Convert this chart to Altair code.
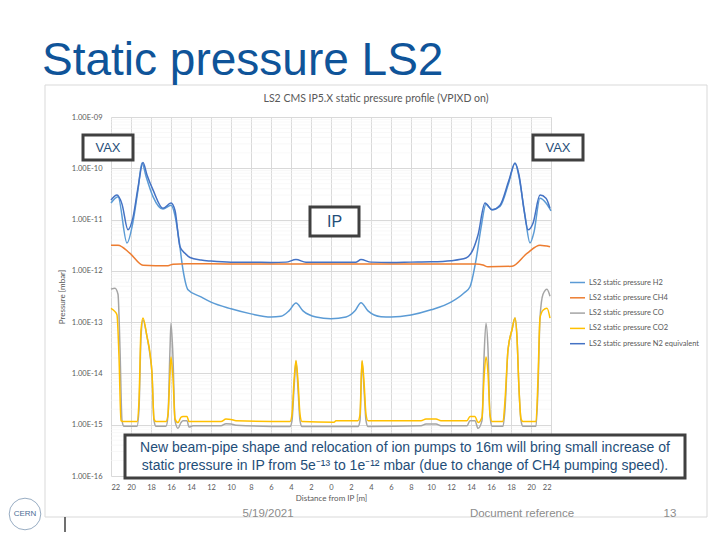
import altair as alt
import pandas as pd

# ---------------- data ----------------
SERIES = ["LS2 static pressure H2", "LS2 static pressure CH4", "LS2 static pressure CO",
          "LS2 static pressure CO2", "LS2 static pressure N2 equivalent"]
COLORS = ["#5B9BD5", "#ED7D31", "#A5A5A5", "#FFC000", "#4472C4"]
WIDTHS = [1.5, 1.5, 1.5, 2.0, 2.5]

h2_x = [-22, -21.3, -20.4, -19.8, -19.3, -18.9, -18.5, -17.8, -16.8, -16.0, -15.6, -15.2, -14.8, -14.3,
        -13, -12, -10, -8, -6, -5, -4.2, -3.5, -2.8, -1.5, 0, 1.5, 2.4, 3.0, 3.7, 5, 6, 8, 10, 12,
        13.3, 13.9, 14.5, 15.0, 15.5, 16.1, 16.9, 17.8, 18.4, 18.8, 19.4, 19.9, 20.3, 20.9, 21.5, 22]
h2_p = [2.1e-11, 2.8e-11, 3.5e-12, 9e-12, 3.8e-11, 1.27e-10, 7.0e-11, 2.8e-11, 1.6e-11, 1.9e-11, 1.2e-11,
        4e-12, 1.05e-12, 4.3e-13, 3.1e-13, 2.45e-13, 1.82e-13, 1.45e-13, 1.26e-13, 1.3e-13, 1.66e-13,
        2.35e-13, 1.66e-13, 1.26e-13, 1.17e-13, 1.26e-13, 1.66e-13, 2.4e-13, 1.66e-13, 1.28e-13,
        1.26e-13, 1.38e-13, 1.74e-13, 2.45e-13, 3.7e-13, 4.9e-13, 1.62e-12, 6.9e-12, 2.0e-11, 1.55e-11,
        1.8e-11, 5.4e-11, 1.27e-10, 6.8e-11, 1.2e-11, 3.5e-12, 5.7e-12, 2.6e-11, 2.1e-11, 1.48e-11]

ch4_x = [-22, -21.3, -20.1, -18.8, -16.3, -15.8, -14.4, -10, -5, 0, 5, 10, 14.5, 15.2, 15.7, 18.1,
         19.6, 20.9, 21.9]
ch4_p = [3.16e-12, 3.16e-12, 2.19e-12, 1.29e-12, 1.26e-12, 1.35e-12, 1.38e-12, 1.36e-12, 1.36e-12,
         1.36e-12, 1.36e-12, 1.36e-12, 1.36e-12, 1.3e-12, 1.2e-12, 1.23e-12, 2.19e-12, 3.16e-12, 2.95e-12]

co_x = [-22, -21.6, -21.3, -21.1, -20.9, -20.7, -19.4, -19.2, -19.0, -18.8, -18.4, -18.1, -17.9, -17.7,
        -17.5, -16.5, -16.3, -16.1, -16.0, -15.8, -15.6, -15.3, -15.0, -14.8, -14.4, -14.2, -13.8, -11,
        -10.5, -10.0, -9.5, -4.1, -3.9, -3.7, -3.5, -3.3, -3.1, -2.9, 0, 2.7, 2.9, 3.1, 3.3, 3.5, 3.7,
        9, 9.5, 10.5, 11, 13.6, 13.9, 14.4, 14.7, 15.1, 15.3, 15.5, 15.7, 15.9, 16.1, 17.2, 17.4, 17.7,
        18.1, 18.4, 18.6, 18.8, 19.0, 19.2, 20.5, 20.7, 20.9, 21.2, 21.6, 21.9]
co_p = [4.4e-13, 4.6e-13, 3.5e-13, 3e-14, 1.2e-15, 9.3e-16, 9.3e-16, 2e-15, 5e-14, 1.1e-13, 5.2e-14,
        2.3e-14, 1e-14, 1.2e-15, 9.3e-16, 9.3e-16, 1.5e-15, 3e-14, 9.5e-14, 2e-14, 1.2e-15, 8.5e-16,
        1.1e-15, 1.2e-15, 1.2e-15, 9e-16, 9.5e-16, 9.5e-16, 1.05e-15, 1.03e-15, 9.8e-16, 9.2e-16, 1.2e-15,
        5e-15, 1.7e-14, 5e-15, 1.2e-15, 9.2e-16, 9.2e-16, 9.2e-16, 1.2e-15, 1.7e-14, 5e-15, 1.2e-15,
        9.2e-16, 9.5e-16, 1.03e-15, 1.03e-15, 9.5e-16, 9.5e-16, 1.2e-15, 1.2e-15, 8.5e-16, 1.2e-15, 2e-14,
        9.5e-14, 3e-14, 1.5e-15, 9.3e-16, 9.3e-16, 2e-15, 2.9e-14, 7.1e-14, 1.2e-13, 5e-14, 5e-15,
        1.2e-15, 9.3e-16, 9.3e-16, 5e-15, 1.2e-13, 3.5e-13, 4.4e-13, 3.2e-13]

co2_x = [-22, -21.6, -21.4, -21.2, -21.0, -20.8, -19.4, -19.2, -19.0, -18.8, -18.4, -18.1, -17.9, -17.7,
         -17.5, -16.5, -16.3, -16.1, -16.0, -15.8, -15.6, -15.3, -15.0, -14.8, -14.4, -14.2, -11, -10.5,
         -10, -9.5, -4.1, -3.9, -3.7, -3.5, -3.3, -3.1, -2.9, 0.3, 0.5, 2.7, 2.9, 3.1, 3.3, 3.5, 3.7, 9,
         9.5, 10.5, 11, 13.6, 13.9, 14.4, 14.7, 15.1, 15.3, 15.5, 15.7, 15.9, 16.1, 17.2, 17.4, 17.7,
         18.1, 18.4, 18.6, 18.8, 19.0, 19.2, 20.5, 20.7, 20.9, 21.2, 21.6, 21.9]
co2_p = [1.86e-13, 1.6e-13, 1.38e-13, 2.1e-14, 1.2e-15, 1.15e-15, 1.15e-15, 3e-15, 7e-14, 1.2e-13,
         5.2e-14, 2.5e-14, 1e-14, 1.3e-15, 1.15e-15, 1.15e-15, 1.6e-15, 1e-14, 2.1e-14, 8e-15, 1.3e-15,
         1.1e-15, 1.4e-15, 1.45e-15, 1.45e-15, 1.15e-15, 1.15e-15, 1.29e-15, 1.27e-15, 1.2e-15, 1.15e-15,
         1.6e-15, 7e-15, 1.78e-14, 7e-15, 1.6e-15, 1.15e-15, 1.12e-15, 1.2e-15, 1.2e-15, 1.6e-15,
         1.78e-14, 7e-15, 1.6e-15, 1.2e-15, 1.2e-15, 1.29e-15, 1.29e-15, 1.2e-15, 1.2e-15, 1.45e-15,
         1.45e-15, 1.1e-15, 1.4e-15, 8e-15, 2.1e-14, 1e-14, 1.6e-15, 1.15e-15, 1.15e-15, 3e-15, 2.9e-14,
         7.1e-14, 1.2e-13, 5e-14, 5e-15, 1.3e-15, 1.15e-15, 1.15e-15, 8e-15, 1.2e-13, 1.7e-13, 1.86e-13,
         1.2e-13]

n2_x = [-22, -21.4, -20.9, -20.3, -19.8, -19.3, -18.8, -18.4, -17.8, -16.8, -16.0, -15.6, -15.1, -14.6,
        -14.1, -13, -12, -10, -8, -6, -4.5, -3.5, -2.5, -1, 0, 1, 2.5, 3.0, 4, 6, 8, 10, 12, 13.5, 14.2,
        14.7, 15.4, 16.1, 16.9, 17.8, 18.4, 18.8, 19.3, 19.7, 20.2, 20.9, 21.5, 21.9]
n2_p = [2.4e-11, 3.0e-11, 2.0e-11, 6.3e-12, 1.1e-11, 4.2e-11, 1.3e-10, 7.4e-11, 3.8e-11, 1.66e-11,
        2.1e-11, 1.5e-11, 2.95e-12, 2.2e-12, 1.82e-12, 1.62e-12, 1.55e-12, 1.48e-12, 1.48e-12, 1.46e-12,
        1.48e-12, 1.66e-12, 1.48e-12, 1.48e-12, 1.48e-12, 1.48e-12, 1.48e-12, 1.66e-12, 1.48e-12,
        1.46e-12, 1.48e-12, 1.5e-12, 1.58e-12, 1.78e-12, 2.6e-12, 5e-12, 2.1e-11, 1.55e-11, 1.9e-11,
        5.9e-11, 1.26e-10, 7.4e-11, 1.55e-11, 6.3e-12, 8.5e-12, 3.0e-11, 2.6e-11, 1.66e-11]

Y_DECADES = [1e-16, 1e-15, 1e-14, 1e-13, 1e-12, 1e-11, 1e-10, 1e-9]
Y_MINOR = [m * d for d in Y_DECADES[:-1] for m in range(2, 10)]
X_TICKS = list(range(-22, 23, 2))

series_data = [(h2_x, h2_p), (ch4_x, ch4_p), (co_x, co_p), (co2_x, co2_p), (n2_x, n2_p)]
rows = []
for name, (xs, ps) in zip(SERIES, series_data):
    for i, (xv, pv) in enumerate(zip(xs, ps)):
        rows.append({"series": name, "x": xv, "p": pv, "i": i})
df = pd.DataFrame(rows)

W, H = 440, 359
CHART_FONT = "Lato"
SLIDE_FONT = "Liberation Sans"
GRAY_TXT = "#595959"
BOX_TXT = "#1F4E79"

xscale = alt.Scale(domain=[-22, 22], nice=False, zero=False)
yscale = alt.Scale(type="log", domain=[1e-16, 1e-9], nice=False)
color_scale = alt.Scale(domain=SERIES, range=COLORS)
width_scale = alt.Scale(domain=SERIES, range=WIDTHS)

y_label_expr = ("'1.00E-' + (round(-log(datum.value)/LN10) < 10 ? '0' : '') + "
                "round(-log(datum.value)/LN10)")

x_axis = alt.Axis(values=X_TICKS, labelExpr="abs(datum.value)", title="Distance from IP [m]",
                  labelPadding=7, titlePadding=4, grid=True)
y_axis = alt.Axis(values=Y_DECADES, labelExpr=y_label_expr, title="Pressure [mbar]",
                  labelPadding=9, titlePadding=5, grid=True)

base = alt.Chart(df)

# minor horizontal gridlines (log minor ticks 2..9 of each decade)
minor = alt.Chart(pd.DataFrame({"p": Y_MINOR})).mark_rule(color="#F4F4F4", strokeWidth=0.6).encode(
    y=alt.Y("p:Q", scale=yscale, axis=y_axis)
)

line_layers = []
for k, name in enumerate(SERIES):
    enc = dict(
        x=alt.X("x:Q", scale=xscale, axis=x_axis),
        y=alt.Y("p:Q", scale=yscale, axis=y_axis),
        color=alt.Color("series:N", scale=color_scale, sort=SERIES,
                        legend=alt.Legend(title=None, orient="none", legendX=458, legendY=157,
                                          symbolType="stroke", symbolSize=225, symbolStrokeWidth=2,
                                          labelFontSize=7.5, labelColor=GRAY_TXT, labelFont=CHART_FONT,
                                          rowPadding=3.3, labelOffset=3)),
        strokeWidth=alt.StrokeWidth("series:N", scale=width_scale, legend=None),
        order=alt.Order("i:Q"),
    )
    line_layers.append(
        base.transform_filter(alt.datum.series == name).mark_line(interpolate="monotone").encode(**enc)
    )

one = pd.DataFrame({"a": [0]})


def box(x1, x2, y1, y2, sw=3):
    return alt.Chart(one).mark_rect(fill="white", stroke="#404040", strokeWidth=sw).encode(
        x=alt.value(x1), x2=alt.value(x2), y=alt.value(y1), y2=alt.value(y2))


def txt(s, x, y, size, color, font=SLIDE_FONT, align="center", baseline="middle", angle=0, weight="normal"):
    return alt.Chart(one).mark_text(text=s, fontSize=size, color=color, font=font, align=align,
                                    baseline=baseline, angle=angle, fontWeight=weight).encode(
        x=alt.value(x), y=alt.value(y))


# slide frame around the chart picture
frame = alt.Chart(one).mark_rect(fill="white", fillOpacity=0, stroke="#D9D9D9", strokeWidth=1).encode(
    x=alt.value(-66), x2=alt.value(596), y=alt.value(-32), y2=alt.value(400))

annotations = [
    box(-28, 22, 18, 43), txt("VAX", -3, 31, 13, BOX_TXT),
    box(422, 472, 18, 43), txt("VAX", 447, 31, 13, BOX_TXT),
    box(199, 248, 90, 119), txt("IP", 223.5, 105, 16, BOX_TXT),
    box(14, 574, 318, 361),
    txt("New beam-pipe shape and relocation of ion pumps to 16m will bring small increase of",
        294, 331, 14, BOX_TXT),
    txt("static pressure in IP from 5e⁻¹³ to 1e⁻¹² mbar (due to change of CH4 pumping speed).",
        294, 349, 14, BOX_TXT),
    txt("Static pressure LS2", -69, -42, 46, "#0F5499", align="left", baseline="alphabetic"),
    txt("LS2 CMS IP5.X static pressure profile (VPIXD on)", 265, -18, 10.5, GRAY_TXT, font=CHART_FONT),
    txt("5/19/2021", 157, 397, 11.5, "#8C8C8C"),
    txt("Document reference", 411, 397, 11.5, "#8C8C8C"),
    txt("13", 559, 397, 11.5, "#8C8C8C"),
    alt.Chart(one).mark_point(shape="circle", size=1000, filled=False, color="#4A6E96", strokeWidth=0.8)
    .encode(x=alt.value(-86), y=alt.value(397)),
    txt("CERN", -86, 397, 8, "#4A6E96"),
    alt.Chart(one).mark_rule(color="#404040", strokeWidth=1.5).encode(
        x=alt.value(-46), y=alt.value(400), y2=alt.value(416)),
]

chart = alt.layer(frame, minor, *line_layers, *annotations).properties(
    width=W, height=H,
    autosize=alt.AutoSizeParams(type="none"),
    padding={"left": 103, "top": 109, "right": 161, "bottom": 56},
    background="white",
).configure_view(stroke=None).configure_axis(
    labelFont=CHART_FONT, labelFontSize=7.5, labelColor=GRAY_TXT,
    titleFont=CHART_FONT, titleFontSize=8, titleColor=GRAY_TXT, titleFontWeight="normal",
    ticks=False, domain=False, gridColor="#D9D9D9", gridWidth=1,
)

chart.save("out.html", embed_options={"renderer": "svg", "actions": False})
